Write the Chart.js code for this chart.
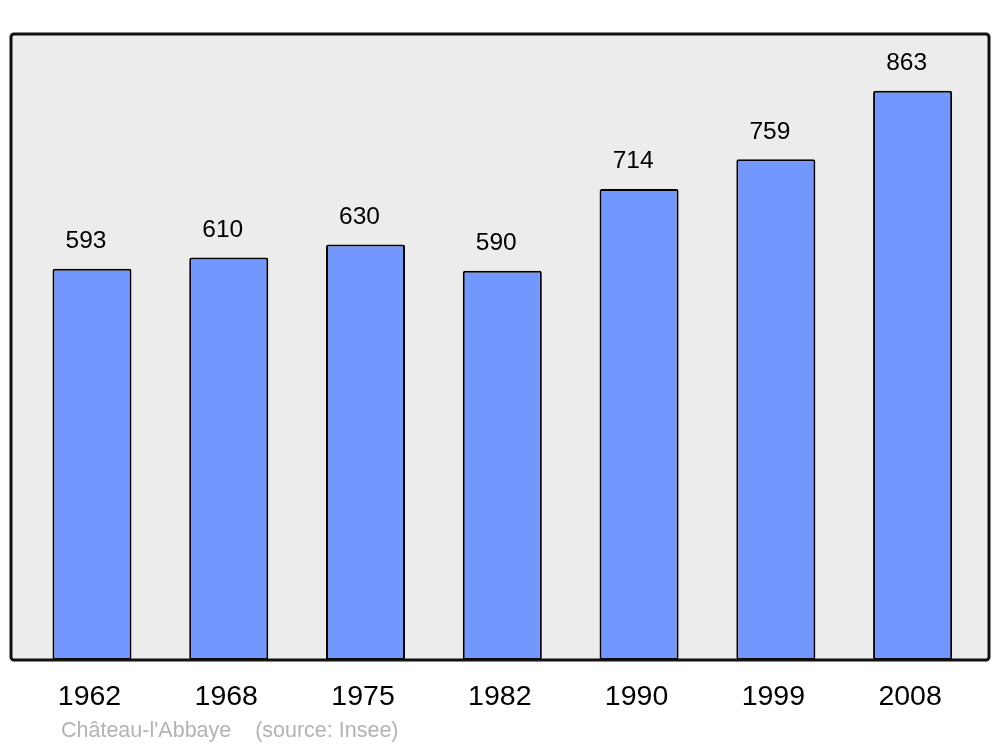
<!DOCTYPE html>
<html>
<head>
<meta charset="utf-8">
<script src="https://cdn.jsdelivr.net/npm/chart.js@4/dist/chart.umd.min.js"></script>
<style>
html,body{margin:0;padding:0;background:#fff;}
#wrap{position:relative;width:1000px;height:747px;}
#footer{position:absolute;left:61px;top:715px;font-family:"Liberation Sans",Arial,sans-serif;font-size:21.5px;color:#b3b3b3;white-space:pre;line-height:30px;}
</style>
</head>
<body>
<div id="wrap">
<canvas id="c" width="1000" height="747"></canvas>
<div id="footer">Château-l'Abbaye    (source: Insee)</div>
</div>
<script>
const years = ['1962','1968','1975','1982','1990','1999','2008'];
const population = [593, 610, 630, 590, 714, 759, 863];
const yMax = 949;

const framePlugin = {
  id: 'frame',
  beforeDraw(chart) {
    const {ctx, chartArea: a} = chart;
    const x0 = a.left - 12.6, x1 = a.right + 8, y0 = a.top, y1 = a.bottom;
    ctx.save();
    ctx.beginPath();
    ctx.roundRect(x0, y0, x1 - x0, y1 - y0, 3);
    ctx.fillStyle = '#ececec';
    ctx.fill();
    ctx.restore();
  },
  afterDatasetsDraw(chart) {
    const {ctx, chartArea: a} = chart;
    const x0 = a.left - 12.6, x1 = a.right + 8, y0 = a.top, y1 = a.bottom;
    ctx.save();
    ctx.beginPath();
    ctx.roundRect(x0, y0, x1 - x0, y1 - y0, 3);
    ctx.lineWidth = 3;
    ctx.strokeStyle = '#111';
    ctx.stroke();
    const meta = chart.getDatasetMeta(0);
    ctx.font = '24.5px "Liberation Sans", Arial, sans-serif';
    ctx.fillStyle = '#000';
    ctx.textAlign = 'center';
    ctx.textBaseline = 'middle';
    meta.data.forEach((bar, i) => {
      ctx.fillText(String(population[i]), bar.x - 6, bar.y - 27.5);
    });
    ctx.restore();
  }
};

new Chart(document.getElementById('c'), {
  type: 'bar',
  data: {
    labels: years,
    datasets: [{
      data: population,
      backgroundColor: '#7298ff',
      borderColor: '#000',
      borderWidth: 2,
      borderRadius: 2,
      borderSkipped: false,
      barPercentage: 0.578,
      categoryPercentage: 1
    }]
  },
  options: {
    responsive: false,
    animation: false,
    devicePixelRatio: 1,
    layout: {padding: {left: 23.6, right: 19, top: 34, bottom: 0}},
    plugins: {legend: {display: false}, tooltip: {enabled: false}},
    scales: {
      x: {
        grid: {display: false, drawTicks: false},
        border: {display: false},
        ticks: {
          color: '#000',
          padding: 20,
          labelOffset: -2.5,
          font: {family: '"Liberation Sans", Arial, sans-serif', size: 28.5}
        },
        afterFit(scale) { scale.height = 87; }
      },
      y: {
        display: false,
        min: 0,
        max: yMax
      }
    }
  },
  plugins: [framePlugin]
});
</script>
</body>
</html>
